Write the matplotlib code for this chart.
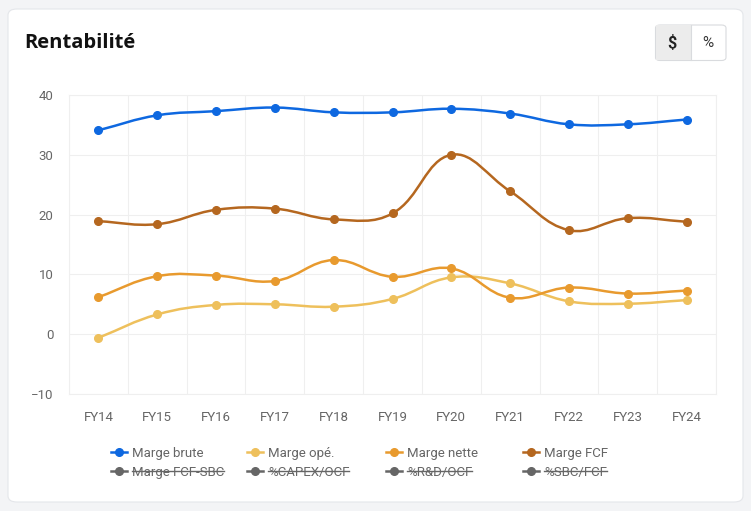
import numpy as np
import matplotlib
matplotlib.use("Agg")
import matplotlib.pyplot as plt
from matplotlib.path import Path
from matplotlib.patches import PathPatch, FancyBboxPatch, Rectangle
from matplotlib.lines import Line2D

plt.rcParams['font.family'] = ['Roboto', 'DejaVu Sans']

# data
years = ["FY14", "FY15", "FY16", "FY17", "FY18", "FY19", "FY20", "FY21", "FY22", "FY23", "FY24"]
marge_brute = [34.1, 36.6, 37.3, 37.9, 37.1, 37.1, 37.7, 36.9, 35.1, 35.1, 35.9]
marge_ope = [-0.6, 3.3, 4.9, 5.0, 4.6, 5.9, 9.5, 8.5, 5.5, 5.1, 5.7]
marge_nette = [6.2, 9.7, 9.8, 8.9, 12.4, 9.6, 11.0, 6.1, 7.8, 6.8, 7.3]
marge_fcf = [18.9, 18.4, 20.8, 21.0, 19.2, 20.2, 30.0, 23.9, 17.4, 19.4, 18.8]

series = [
    ("Marge brute", marge_brute, "#0e68e0"),
    ("Marge opé.", marge_ope, "#eec05c"),
    ("Marge nette", marge_nette, "#e89a2e"),
    ("Marge FCF", marge_fcf, "#b5671f"),
]
hidden = ["Marge FCF-SBC", "%CAPEX/OCF", "%R&D/OCF", "%SBC/FCF"]

W, H = 751, 511
fig = plt.figure(figsize=(W / 100, H / 100), dpi=100)
fig.patch.set_facecolor("#f3f4f6")

# card
card = FancyBboxPatch((8 / W, 9 / H), 735 / W, 493 / H,
                      boxstyle="round,pad=0,rounding_size=0.012",
                      transform=fig.transFigure, facecolor="white",
                      edgecolor="#e4e6ea", linewidth=0.8, zorder=-10)
fig.patches.append(card)

fig.text(24 / W, 1 - 43 / H, "Rentabilité", fontsize=14.5, fontweight="bold",
         family="Open Sans", color="#111111", va="center", ha="left")

# $ / % toggle
btn = FancyBboxPatch((655.5 / W, 1 - 60.5 / H), 70.5 / W, 35.5 / H,
                     boxstyle="round,pad=0,rounding_size=0.006",
                     transform=fig.transFigure, facecolor="white",
                     edgecolor="#d9dbde", linewidth=0.8, zorder=-5)
fig.patches.append(btn)
fig.patches.append(Rectangle((656 / W, 1 - 60 / H), 34.5 / W, 34.5 / H,
                             transform=fig.transFigure, facecolor="#ececec",
                             edgecolor="none", zorder=-4))
fig.add_artist(Line2D([690.5 / W, 690.5 / W], [1 - 60.5 / H, 1 - 25 / H],
                      transform=fig.transFigure, color="#d9dbde", lw=0.8))
fig.text(672 / W, 1 - 43 / H, "$", fontsize=11.5, color="#222222",
         ha="center", va="center", fontweight="bold")
fig.text(708 / W, 1 - 43 / H, "%", fontsize=11, color="#333333",
         ha="center", va="center")

ax = fig.add_axes([69 / W, 1 - 394 / H, (716 - 69) / W, (394 - 95) / H])
ax.patch.set_alpha(0)
ax.set_xlim(-0.5, len(years) - 0.5)
ax.set_ylim(-10, 40)

x = np.arange(len(years))
sx = 58.8   # px per category
sy = 5.98   # px per unit


def spline_path(xs, ys, t=0.4):
    px = np.asarray(xs, float) * sx
    py = np.asarray(ys, float) * sy
    n = len(px)
    cp_prev, cp_next = [], []
    for i in range(n):
        p0 = (px[max(i - 1, 0)], py[max(i - 1, 0)])
        p1 = (px[i], py[i])
        p2 = (px[min(i + 1, n - 1)], py[min(i + 1, n - 1)])
        d01 = np.hypot(p1[0] - p0[0], p1[1] - p0[1])
        d12 = np.hypot(p2[0] - p1[0], p2[1] - p1[1])
        tot = d01 + d12
        s01 = d01 / tot if tot else 0
        s12 = d12 / tot if tot else 0
        fa, fb = t * s01, t * s12
        cp_prev.append((p1[0] - fa * (p2[0] - p0[0]), p1[1] - fa * (p2[1] - p0[1])))
        cp_next.append((p1[0] + fb * (p2[0] - p0[0]), p1[1] + fb * (p2[1] - p0[1])))
    verts = [(px[0], py[0])]
    codes = [Path.MOVETO]
    for i in range(n - 1):
        verts += [cp_next[i], cp_prev[i + 1], (px[i + 1], py[i + 1])]
        codes += [Path.CURVE4] * 3
    verts = [(vx / sx, vy / sy) for vx, vy in verts]
    return Path(verts, codes)


for name, vals, col in series:
    ax.add_patch(PathPatch(spline_path(x, vals), facecolor="none",
                           edgecolor=col, lw=1.8, zorder=3))
    ax.plot(x, vals, "o", color=col, ms=5.5, zorder=4)

ax.set_yticks([-10, 0, 10, 20, 30, 40])
ax.set_xticks(x)
ax.set_xticklabels(years)
ax.set_xticks(np.arange(-0.5, len(years)), minor=True)
ax.grid(False)
ax.yaxis.grid(True, color="#efefef", lw=0.8)
ax.xaxis.grid(True, which="minor", color="#efefef", lw=0.8)
for s in ax.spines.values():
    s.set_color("#efefef")
    s.set_linewidth(0.8)
ax.tick_params(axis="both", which="both", length=0, colors="#666666", labelsize=9.5)
ax.tick_params(axis="y", pad=11)
ax.tick_params(axis="x", pad=12)
ax.set_axisbelow(True)

# legend
cols_x = [119, 255, 394, 531]
rows_y = [452, 471]
labels = [(s[0], s[2], False) for s in series] + [(h, "#666666", True) for h in hidden]
texts = []
for i, (lab, col, strike) in enumerate(labels):
    cx = cols_x[i % 4]
    cy = rows_y[i // 4]
    fy = 1 - cy / H
    fig.add_artist(Line2D([(cx - 8) / W, (cx + 8) / W], [fy, fy],
                          transform=fig.transFigure, color=col, lw=1.8))
    fig.add_artist(Line2D([cx / W], [fy], transform=fig.transFigure, marker="o",
                          color=col, ms=5.5))
    t = fig.text((cx + 13) / W, fy, lab, fontsize=9.5, color="#666666",
                 ha="left", va="center_baseline")
    if strike:
        texts.append(t)

fig.canvas.draw()
r = fig.canvas.get_renderer()
for t in texts:
    bb = t.get_window_extent(r)
    ym = 1 - rows_y[1] / H
    fig.add_artist(Line2D([bb.x0 / W, bb.x1 / W], [ym, ym],
                          transform=fig.transFigure, color="#666666", lw=1.0))

fig.savefig("out.png", dpi=100, facecolor=fig.get_facecolor())
